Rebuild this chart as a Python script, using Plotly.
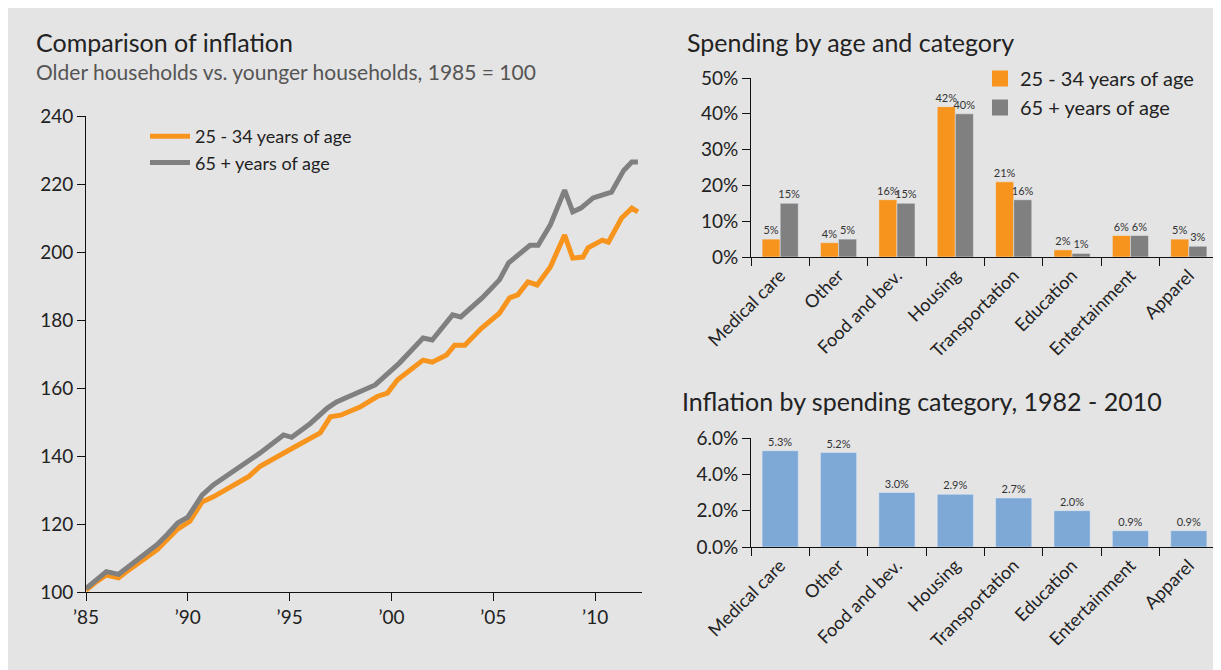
import plotly.graph_objects as go

# ---------------- data ----------------
young_years = [1985.0, 1985.5, 1986.0, 1986.6, 1987.0, 1988.0, 1988.5, 1989.0, 1989.5, 1990.1,
               1990.7, 1991.25, 1992.0, 1993.0, 1993.55, 1994.5, 1995.2, 1996.5, 1997.0, 1997.5,
               1998.45, 1999.3, 1999.8, 2000.3, 2001.55, 2002.0, 2002.7, 2003.1, 2003.6, 2004.4,
               2005.3, 2005.8, 2006.2, 2006.7, 2007.15, 2007.8, 2008.5, 2008.9, 2009.4, 2009.65,
               2010.35, 2010.65, 2011.3, 2011.8, 2012.1]
young_vals = [100.5, 103, 105, 104.2, 106, 110.5, 112.5, 115.5, 118.5, 120.8,
              126.5, 128, 130.5, 134, 137, 140.3, 142.5, 146.8, 151.5, 152,
              154.4, 157.5, 158.5, 162.4, 168.2, 167.6, 169.7, 172.6, 172.6, 177.5,
              182, 186.5, 187.4, 191.2, 190.3, 195.6, 205, 198.2, 198.5, 201.2,
              203.5, 202.9, 210, 212.9, 211.8]

old_years = [1985.0, 1985.5, 1986.0, 1986.6, 1987.0, 1988.0, 1988.5, 1989.0, 1989.5, 1990.0,
             1990.7, 1991.25, 1992.0, 1993.0, 1993.55, 1994.7, 1995.1, 1996.0, 1996.85, 1997.3,
             1998.95, 1999.2, 2000.4, 2001.55, 2002.0, 2003.0, 2003.4, 2004.45, 2005.3, 2005.75,
             2006.8, 2007.2, 2007.8, 2008.5, 2008.9, 2009.3, 2009.9, 2010.8, 2011.4, 2011.8,
             2012.1]
old_vals = [101, 103.5, 106, 105.2, 107, 111.8, 114, 117, 120.3, 122,
            128.5, 131.5, 134.5, 138.5, 140.9, 146.2, 145.5, 149.5, 154.1, 155.9,
            160, 160.9, 167.4, 174.7, 174.1, 181.5, 180.9, 186.5, 191.8, 196.8,
            202, 202, 208, 218.2, 211.8, 212.9, 215.9, 217.6, 224, 226.5,
            226.5]

year_ticks = [1985, 1990, 1995, 2000, 2005, 2010]
year_labels = ["\u201985", "\u201990", "\u201995", "\u201900", "\u201905", "\u201910"]
index_ticks = [100, 120, 140, 160, 180, 200, 220, 240]

categories = ["Medical care", "Other", "Food and bev.", "Housing", "Transportation",
              "Education", "Entertainment", "Apparel"]
spend_young = [5, 4, 16, 42, 21, 2, 6, 5]
spend_old = [15, 5, 15, 40, 16, 1, 6, 3]
spend_ticks = [0, 10, 20, 30, 40, 50]
inflation_rate = [5.3, 5.2, 3.0, 2.9, 2.7, 2.0, 0.9, 0.9]
inflation_ticks = [0, 2, 4, 6]

name_young = "25 - 34 years of age"
name_old = "65 + years of age"

# ---------------- style ----------------
ORANGE = "#F7941D"
GRAY = "#808080"
BLUE = "#7EA9D7"
BG = "#E4E4E4"
TXT = "#222222"
FONT = "Lato"

W, H = 1213, 662
def px(x):
    return (x - 8) / W
def py(y):
    return (670 - y) / H

fig = go.Figure()

fig.add_trace(go.Scatter(x=young_years, y=young_vals, mode="lines", name=name_young,
                         line=dict(color=ORANGE, width=5), xaxis="x", yaxis="y",
                         legend="legend"))
fig.add_trace(go.Scatter(x=old_years, y=old_vals, mode="lines", name=name_old,
                         line=dict(color=GRAY, width=5), xaxis="x", yaxis="y",
                         legend="legend"))

fig.add_trace(go.Bar(x=categories, y=spend_young, name=name_young, marker_color=ORANGE,
                     text=[f"{v}%" for v in spend_young], textposition="outside",
                     textfont=dict(size=11, color="#333"), constraintext="none",
                     cliponaxis=False, xaxis="x2", yaxis="y2", showlegend=False))
fig.add_trace(go.Bar(x=categories, y=spend_old, name=name_old, marker_color=GRAY,
                     text=[f"{v}%" for v in spend_old], textposition="outside",
                     textfont=dict(size=11, color="#333"), constraintext="none",
                     cliponaxis=False, xaxis="x2", yaxis="y2", showlegend=False))
fig.add_trace(go.Scatter(x=[None], y=[None], mode="markers", name=name_young,
                         marker=dict(symbol="square", size=16, color=ORANGE),
                         xaxis="x2", yaxis="y2", legend="legend2"))
fig.add_trace(go.Scatter(x=[None], y=[None], mode="markers", name=name_old,
                         marker=dict(symbol="square", size=16, color=GRAY),
                         xaxis="x2", yaxis="y2", legend="legend2"))

fig.add_trace(go.Bar(x=categories, y=inflation_rate, marker_color=BLUE,
                     text=[f"{v:.1f}%" for v in inflation_rate], textposition="outside",
                     textfont=dict(size=11, color="#333"), constraintext="none",
                     cliponaxis=False, xaxis="x3", yaxis="y3", showlegend=False))

axis_common = dict(showgrid=False, zeroline=False, showline=True, linecolor="#111",
                   linewidth=1, ticks="outside", ticklen=8, tickcolor="#111",
                   automargin=False,
                   tickfont=dict(family=FONT, size=19, color=TXT))

fig.update_layout(
    width=W, height=H,
    margin=dict(l=0, r=0, t=0, b=0, pad=0, autoexpand=False),
    paper_bgcolor=BG, plot_bgcolor="rgba(0,0,0,0)",
    font=dict(family=FONT, color=TXT),
    barmode="group",
    bargap=0.38, bargroupgap=0.0,
    xaxis=dict(axis_common, domain=[px(86), px(642)], range=[1985, 2012.3],
               tickvals=year_ticks, ticktext=year_labels, anchor="y"),
    yaxis=dict(axis_common, domain=[py(592), py(116)], range=[100, 240],
               tickvals=index_ticks, ticktext=[str(v) for v in index_ticks], anchor="x"),
    xaxis2=dict(axis_common, domain=[px(751), px(1218)], type="category",
                range=[-0.5, 7.5], tickson="boundaries", tickangle=-45, anchor="y2",
                tickfont=dict(family=FONT, size=18, color=TXT)),
    yaxis2=dict(axis_common, domain=[py(257), py(78)], range=[0, 50],
                tickvals=spend_ticks, ticktext=[f"{v}%" for v in spend_ticks], anchor="x2"),
    xaxis3=dict(axis_common, domain=[px(751), px(1218)], type="category",
                range=[-0.5, 7.5], tickson="boundaries", tickangle=-45, anchor="y3",
                tickfont=dict(family=FONT, size=18, color=TXT)),
    yaxis3=dict(axis_common, domain=[py(547), py(438)], range=[0, 6],
                tickvals=inflation_ticks, ticktext=[f"{v:.1f}%" for v in inflation_ticks],
                anchor="x3"),
    legend=dict(x=px(145), y=py(118), xanchor="left", yanchor="top",
                bgcolor="rgba(0,0,0,0)", font=dict(family=FONT, size=18, color=TXT),
                tracegroupgap=0, itemwidth=40),
    legend2=dict(x=px(980), y=py(59), xanchor="left", yanchor="top",
                 bgcolor="rgba(0,0,0,0)", font=dict(family=FONT, size=20, color=TXT),
                 tracegroupgap=0),
    annotations=[
        dict(text="Comparison of inflation", x=px(34), y=py(42), xref="paper", yref="paper",
             xanchor="left", yanchor="middle", showarrow=False,
             font=dict(family=FONT, size=25, color=TXT)),
        dict(text="Older households vs. younger households, 1985 = 100", x=px(34), y=py(71),
             xref="paper", yref="paper", xanchor="left", yanchor="middle", showarrow=False,
             font=dict(family=FONT, size=21, color="#555")),
        dict(text="Spending by age and category", x=px(685), y=py(42), xref="paper",
             yref="paper", xanchor="left", yanchor="middle", showarrow=False,
             font=dict(family=FONT, size=25, color=TXT)),
        dict(text="Inflation by spending category, 1982 - 2010", x=px(680), y=py(401),
             xref="paper", yref="paper", xanchor="left", yanchor="middle", showarrow=False,
             font=dict(family=FONT, size=25, color=TXT)),
    ],
)

fig.write_html("out.html")
